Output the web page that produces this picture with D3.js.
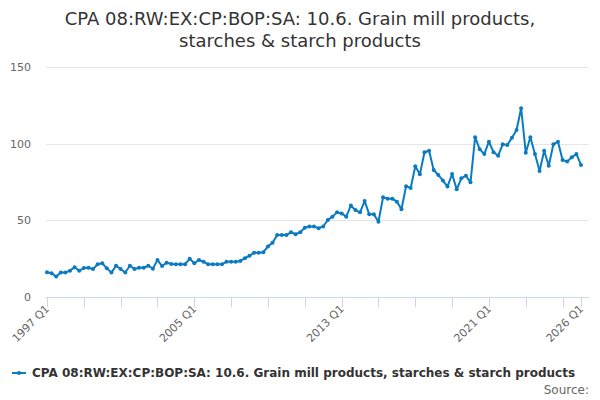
<!DOCTYPE html>
<html>
<head>
<meta charset="utf-8">
<script src="https://cdn.jsdelivr.net/npm/d3@7"></script>
<style>
  body { margin: 0; background: #fff; }
  svg { font-family: "DejaVu Sans", Verdana, sans-serif; }
</style>
</head>
<body>
<svg id="chart" width="600" height="400"></svg>
<script>
const titleLines = ["CPA 08:RW:EX:CP:BOP:SA: 10.6. Grain mill products,", "starches & starch products"];
const seriesName = "CPA 08:RW:EX:CP:BOP:SA: 10.6. Grain mill products, starches & starch products";
const startYear = 1997;
const values = [
  16.1, 15.5, 13.3, 16, 16, 17.2, 19.4, 17.2, 18.9, 19.1, 18.3, 21.3,
  22, 18.7, 15.9, 20.4, 18.3, 16, 20.4, 18.3, 19.1, 19.1, 20.4, 18.5,
  24.1, 20.2, 22.4, 21.5, 21.3, 21.3, 21.3, 25, 22, 24.1, 23, 21.3,
  21.3, 21.3, 21.3, 23, 23, 23, 23.5, 25.3, 26.9, 28.9, 28.9, 29.2,
  33, 35.4, 40.4, 40.4, 40.4, 42.2, 41, 42.2, 45.2, 46, 46, 44.9,
  46, 50.2, 52.4, 55.2, 54.5, 52.4, 59.6, 56.7, 55.2, 62.6, 53.9, 53.9,
  49.1, 65, 64.1, 64.1, 62.2, 57.2, 72.2, 71.1, 85.2, 80, 94.4, 95.4,
  82.8, 79.6, 75.9, 72, 80.2, 70.2, 77.4, 79.1, 74.8, 104.2, 96.3, 93.3,
  101.3, 94.4, 92.2, 99.6, 99.2, 103.9, 108.9, 123.1, 94.1, 104.2, 93.3, 82.2,
  95.4, 85.6, 99.6, 101.3, 89.4, 88.3, 91.1, 93.3, 86.1
];
const categories = values.map((v, i) => (startYear + Math.floor(i / 4)) + " Q" + (i % 4 + 1));
const yTicks = [0, 50, 100, 150];
const xTickLabels = ["1997 Q1", "2005 Q1", "2013 Q1", "2021 Q1", "2026 Q1"];
const sourceText = "Source:";

const svg = d3.select("#chart");
const margin = { left: 47, right: 19, top: 67, bottom: 103 };
const W = 600, H = 400;

const x = d3.scaleLinear().domain([0, values.length - 1]).range([margin.left, W - margin.right]);
const y = d3.scaleLinear().domain([0, 150]).range([H - margin.bottom, margin.top]);

// title
svg.append("g").selectAll("text").data(titleLines).join("text")
  .attr("x", 300).attr("y", (d, i) => 25 + i * 22)
  .attr("text-anchor", "middle").attr("fill", "#333333")
  .style("font-size", "18px").text(d => d);

// grid
svg.append("g").selectAll("line").data(yTicks.filter(t => t > 0)).join("line")
  .attr("x1", margin.left - 1).attr("x2", W - margin.right + 8)
  .attr("y1", d => Math.round(y(d)) + 0.5).attr("y2", d => Math.round(y(d)) + 0.5)
  .attr("stroke", "#e6e6e6").attr("stroke-width", 1);

// y labels
svg.append("g").selectAll("text").data(yTicks).join("text")
  .attr("x", 31).attr("y", d => y(d) + 4)
  .attr("text-anchor", "end").attr("fill", "#666666")
  .style("font-size", "11px").text(d => d);

// x axis
const tickIdx = d3.range(0, values.length, 8).concat([values.length - 1]);
const baseY = Math.round(y(0)) + 0.5;
svg.append("line").attr("x1", margin.left - 1).attr("x2", W - margin.right + 8)
  .attr("y1", baseY).attr("y2", baseY).attr("stroke", "#ccd6eb");
svg.append("g").selectAll("line").data(tickIdx).join("line")
  .attr("x1", d => Math.round(x(d)) + 0.5).attr("x2", d => Math.round(x(d)) + 0.5)
  .attr("y1", baseY).attr("y2", baseY + 10).attr("stroke", "#ccd6eb");

svg.append("g").selectAll("text").data(xTickLabels).join("text")
  .attr("transform", d => {
    const i = categories.indexOf(d);
    return `translate(${x(i) + 3},${baseY + 12}) rotate(-45)`;
  })
  .attr("text-anchor", "end").attr("fill", "#666666")
  .style("font-size", "11px").text(d => d);

// line
const color = "#0a7bc1";
const line = d3.line().x((d, i) => x(i)).y(d => y(d));
svg.append("path").datum(values).attr("d", line)
  .attr("fill", "none").attr("stroke", color).attr("stroke-width", 2)
  .attr("stroke-linejoin", "round");
svg.append("g").selectAll("circle").data(values).join("circle")
  .attr("cx", (d, i) => x(i)).attr("cy", d => y(d)).attr("r", 2)
  .attr("fill", color);

// legend
svg.append("line").attr("x1", 12).attr("x2", 26).attr("y1", 373).attr("y2", 373)
  .attr("stroke", color).attr("stroke-width", 2);
svg.append("circle").attr("cx", 19).attr("cy", 373).attr("r", 2).attr("fill", color);
svg.append("text").attr("x", 32).attr("y", 377)
  .attr("fill", "#333333").style("font-size", "12px").style("font-weight", "bold")
  .text(seriesName);

svg.append("text").attr("x", 589).attr("y", 394).attr("text-anchor", "end")
  .attr("fill", "#666666").style("font-size", "12px").text(sourceText);
</script>
</body>
</html>
